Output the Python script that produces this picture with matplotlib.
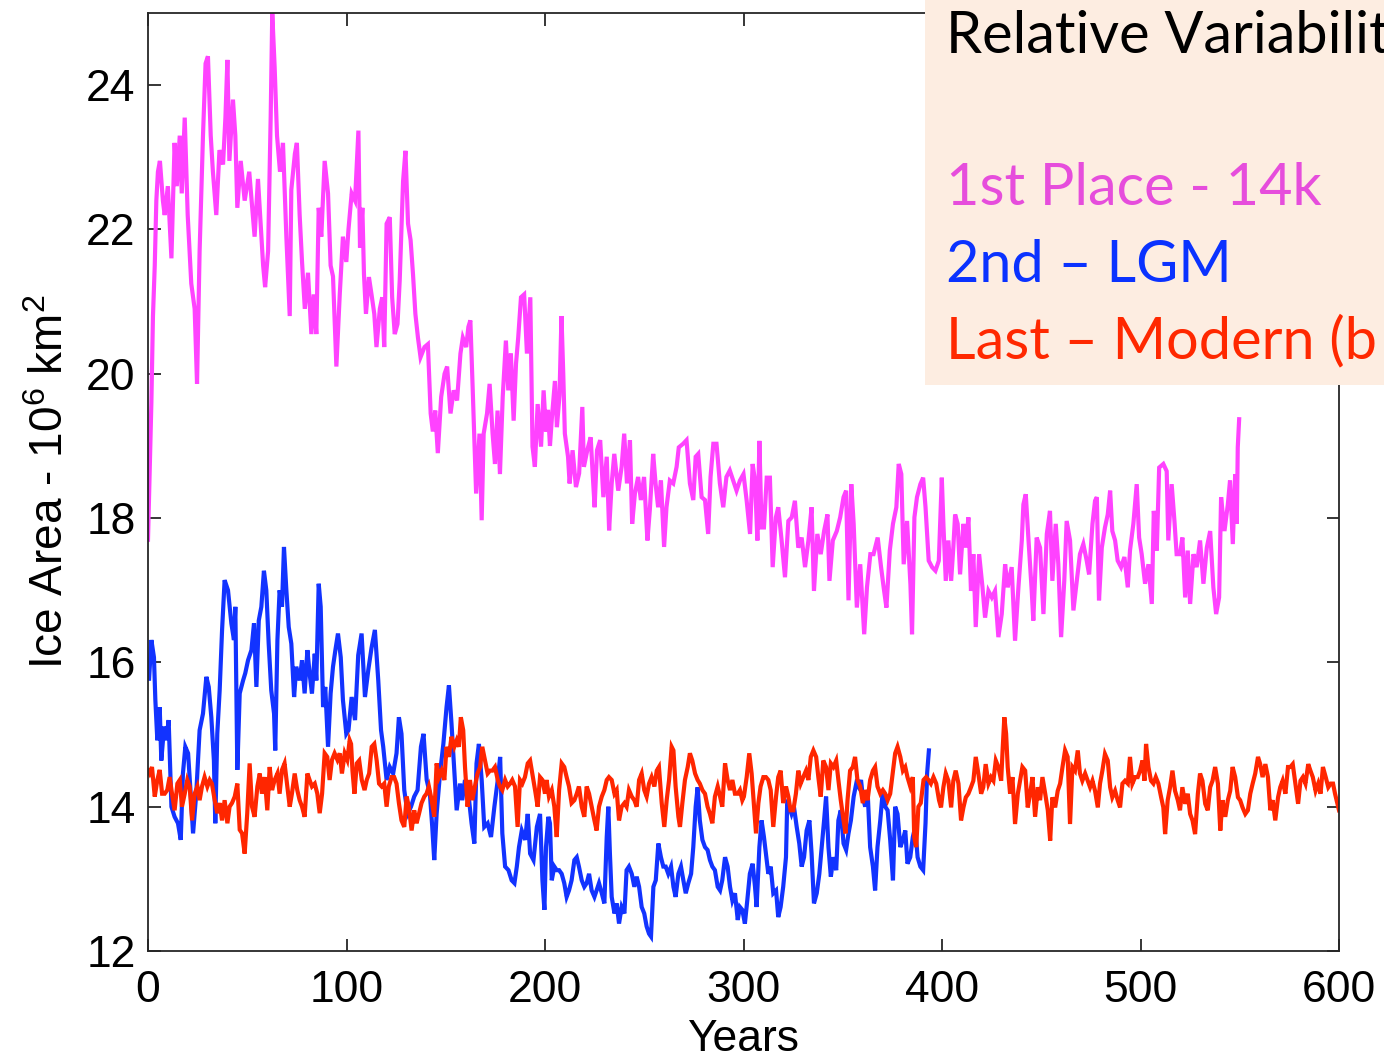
import matplotlib
matplotlib.use("Agg")
import matplotlib.pyplot as plt
import numpy as np
from matplotlib.patches import Rectangle

# (year, ice area in 10^6 km^2)
run_14k = [
    (0, 17.7), (0.8, 18.6), (1.7, 19.6), (2.5, 20.8), (3.4, 21.5), (4.2, 22.4), (5, 22.8), (6, 22.95),
    (7.5, 22.4), (8.4, 22.2), (10, 22.6), (11.8, 21.6), (13.4, 23.2), (14.5, 22.6), (16, 23.3), (17, 22.5),
    (18.5, 23.55), (20, 22.2), (21.8, 21.25), (23.5, 20.9), (24.7, 19.86), (26, 21.7), (27.7, 23.3),
    (29, 24.3), (30.2, 24.4), (31.6, 23.3), (32.7, 22.8), (34.4, 22.2), (36, 23.1), (37.8, 22.9),
    (39, 23.55), (40, 24.35), (41, 22.95), (42.8, 23.8), (44, 23.3), (45, 22.3), (46.7, 22.95),
    (48.7, 22.4), (51, 22.8), (53.7, 21.9), (55.4, 22.7), (58, 21.5), (59, 21.2), (60.5, 21.7),
    (61.8, 23.55), (62.6, 25.0), (63.8, 24.25), (65, 23.3), (66.5, 22.8), (68, 23.2), (69.7, 21.9),
    (71.4, 20.8), (72.2, 22.55), (74, 23.05), (75, 23.2), (76.4, 22.2), (77.6, 21.55), (79, 20.9),
    (80.6, 21.4), (82.3, 20.55), (83.5, 21.1), (84.8, 20.55), (86, 22.3), (87.3, 21.9), (89, 22.95),
    (90.7, 22.5), (92, 21.5), (93.2, 21.35), (94.9, 20.1), (96.6, 21.1), (98.2, 21.9), (99.9, 21.55),
    (101, 22.0), (102.6, 22.5), (104.3, 22.4), (106, 23.37), (106.8, 21.75), (108, 22.3), (108.8, 21.38),
    (109.8, 20.83), (111.3, 21.34), (112.6, 21.1), (114, 20.83), (115.1, 20.37), (116.8, 20.9),
    (118, 21.06), (119, 20.37), (120.2, 22.08), (121.8, 22.17), (123, 21.06), (124.3, 20.55),
    (125.7, 20.69), (126.8, 21.29), (128.5, 22.67), (129.7, 23.09), (131, 22.08), (132.3, 21.85),
    (133.5, 21.38), (134.7, 20.83), (136, 20.5), (137.3, 20.23), (139.3, 20.37), (141, 20.41),
    (142.4, 19.45), (143.5, 19.2), (144.7, 19.49), (146, 18.9), (147.7, 19.68), (149.4, 20.0),
    (150.7, 20.1), (152.4, 19.45), (154, 19.77), (155.7, 19.63), (157.4, 20.28), (158.6, 20.5),
    (160.3, 20.37), (161.4, 20.65), (162.4, 20.74), (163.6, 19.77), (165.3, 18.34), (167, 19.17),
    (168.1, 17.97), (169.1, 19.17), (170.8, 19.45), (172.1, 19.86), (173.6, 19.17), (174.8, 18.75),
    (176.1, 19.49), (177.3, 18.61), (178.7, 19.68), (180.3, 20.46), (181.5, 19.77), (182.8, 20.28),
    (184.2, 19.35), (185.4, 20.14), (186.5, 20.5), (187.9, 21.06), (189.5, 21.1), (190.9, 20.28),
    (192.6, 21.06), (193.7, 18.99), (194.9, 18.71), (196.3, 19.58), (198, 18.99), (199.3, 19.77),
    (200.5, 19.2), (201.5, 19.5), (202.5, 19.0), (203.5, 19.4), (205, 19.9), (206, 19.26), (207.3, 19.7),
    (208.3, 20.8), (209.2, 20.0), (210, 19.17), (211.6, 18.85), (212.4, 18.48), (213.9, 18.94),
    (215.6, 18.43), (217.2, 18.62), (218.8, 19.54), (219.6, 18.71), (221.3, 18.94), (223, 19.12),
    (224, 18.62), (225, 18.15), (226.2, 18.94), (227.8, 19.08), (229.4, 18.29), (231.1, 18.85),
    (232.3, 17.83), (233.6, 18.48), (234.9, 18.89), (236.9, 18.38), (238.6, 18.71), (239.9, 19.17),
    (241.3, 18.48), (242.8, 19.08), (243.9, 17.92), (245.3, 18.34), (246.9, 18.57), (248.3, 18.25),
    (249.9, 18.57), (251.6, 17.69), (252.8, 18.11), (254.5, 18.89), (255.7, 18.48), (257, 18.15),
    (258.4, 18.52), (260, 17.6), (261.2, 18.15), (262.9, 18.52), (264.6, 18.48), (266.3, 18.71),
    (267.4, 18.98), (269.6, 19.03), (271.3, 19.08), (273, 18.48), (274.7, 18.25), (275.9, 18.85),
    (277.2, 18.89), (278.9, 18.29), (280.6, 18.25), (282.2, 17.78), (283.4, 18.57), (284.8, 19.03),
    (286.4, 19.03), (288.1, 18.48), (289.8, 18.15), (291.4, 18.57), (293.1, 18.66), (294.8, 18.52),
    (296.5, 18.38), (298.2, 18.52), (300, 18.61), (301.6, 18.24), (303.3, 17.78), (304.6, 18.75),
    (305.8, 18.52), (307, 17.69), (308, 19.07), (309.1, 17.87), (310.3, 17.87), (311.7, 18.56),
    (313.3, 18.56), (314.7, 17.32), (316.3, 18.01), (317.5, 18.15), (319.2, 17.69), (320.9, 17.18),
    (322.6, 17.96), (324.3, 18.01), (325.9, 18.24), (327.6, 17.59), (329.3, 17.73), (331, 17.32),
    (332.7, 17.69), (334.3, 18.15), (335.5, 16.99), (337.2, 17.78), (338.9, 17.5), (340.6, 17.82),
    (342.3, 18.05), (343.3, 17.13), (345, 17.69), (347, 17.82), (348.7, 18.01), (350.4, 18.29),
    (351.7, 18.38), (352.9, 16.86), (354.3, 18.47), (355.5, 17.92), (357.1, 16.76), (358.8, 17.36),
    (360.8, 16.39), (362.2, 17.04), (363.9, 17.5), (365.5, 17.5), (367.6, 17.73), (369.3, 17.32),
    (370.6, 17.04), (372, 16.76), (373.7, 17.55), (375.3, 17.92), (377, 18.15), (378.2, 18.75),
    (379.5, 18.61), (380.7, 17.36), (382.4, 17.96), (384.1, 17.08), (384.9, 16.39), (386.1, 18.01),
    (387.4, 18.29), (389.1, 18.47), (390.5, 18.56), (391.7, 18.15), (393.3, 17.41), (395, 17.32),
    (396.7, 17.27), (398.4, 17.41), (399.9, 18.56), (400.7, 17.92), (401.9, 17.13), (403.2, 17.69),
    (404.6, 17.13), (405.7, 17.59), (406.6, 18.05), (407.9, 17.92), (409.1, 17.22), (410.8, 17.92),
    (412, 17.59), (413.3, 18.01), (414.6, 16.99), (415.8, 17.5), (417, 16.49), (418.7, 17.5),
    (420.4, 17.04), (421.7, 16.62), (423.4, 16.99), (425.1, 16.9), (426.7, 16.99), (428.4, 16.35),
    (430.1, 16.67), (431.8, 17.36), (433.1, 17.04), (435.1, 17.32), (436.8, 16.3), (438.5, 17.04),
    (440.2, 17.69), (441, 18.19), (442.2, 18.33), (443.5, 17.73), (445.2, 16.99), (446, 16.58),
    (447.7, 17.73), (449.4, 17.59), (451.1, 16.67), (452.8, 17.78), (454.4, 18.1), (455.6, 17.13),
    (457.3, 17.92), (458.6, 17.36), (460, 16.35), (461.6, 17.13), (462.8, 17.96), (464.5, 17.69),
    (466.2, 16.72), (467.9, 17.13), (469.5, 17.5), (471.2, 17.64), (472.9, 17.41), (474.1, 17.22),
    (475.8, 17.92), (477.1, 18.24), (478, 18.29), (479.1, 16.86), (480.5, 17.59), (482.1, 17.87),
    (483.5, 18.05), (484.7, 18.38), (485.8, 17.82), (487.2, 17.69), (488.5, 17.41), (490.2, 17.32),
    (491.9, 17.46), (493.6, 17.04), (494.7, 17.55), (496.4, 17.92), (498.1, 18.47), (499.3, 17.73),
    (500.6, 17.5), (502.3, 17.09), (504, 17.36), (505.7, 16.81), (506.7, 18.1), (508.2, 17.55),
    (509.4, 18.7), (511.5, 18.75), (513.2, 18.65), (514, 17.69), (515.7, 18.47), (517.1, 17.96),
    (518.2, 17.5), (519.9, 17.5), (521.1, 17.73), (522.5, 16.9), (523.8, 17.55), (525, 16.81),
    (526.7, 17.5), (528.3, 17.32), (530, 17.69), (531.7, 17.09), (533.4, 17.59), (535.1, 17.82),
    (536.7, 17.04), (538.1, 16.67), (539.6, 16.9), (540.6, 18.29), (542.3, 17.82), (544, 18.19),
    (545.1, 18.52), (546.5, 17.64), (547.7, 18.61), (548.5, 17.92), (549, 18.98), (549.7, 19.37),
]

run_lgm = [
    (0, 15.9), (0.5, 15.75), (1.7, 16.31), (3, 16.07), (3.7, 15.48), (4.7, 14.92), (5.9, 15.38),
    (6.7, 14.64), (8.1, 15.11), (9.2, 14.92), (10.4, 15.2), (11.8, 14.0), (13.4, 13.86), (15.1, 13.77),
    (16.5, 13.54), (17.6, 14.46), (18.8, 14.83), (20.2, 14.74), (21.5, 14.18), (22.7, 13.63),
    (24.3, 14.18), (26, 15.06), (27.7, 15.29), (29.4, 15.8), (30.6, 15.66), (31.9, 15.24), (33.2, 14.64),
    (33.9, 13.77), (34.9, 15.01), (36.1, 15.61), (37.3, 16.44), (38.6, 17.14), (40.3, 17.0),
    (42, 16.54), (43.3, 16.31), (44, 16.77), (45, 14.51), (46.2, 15.57), (47.9, 15.75), (49, 15.85),
    (50.4, 16.03), (52.1, 16.17), (53.4, 16.54), (54.6, 15.66), (55.8, 16.58), (57.1, 16.77),
    (58.4, 17.27), (59.6, 17.0), (60.8, 16.26), (62.1, 15.61), (63.5, 15.29), (64.1, 14.78),
    (65.2, 16.31), (66.3, 17.0), (67.5, 16.77), (68.5, 17.6), (69.7, 17.0), (70.9, 16.49),
    (72.2, 16.26), (73.6, 15.52), (74.7, 15.94), (76.4, 15.75), (77.6, 16.03), (78.9, 15.57),
    (80.3, 16.17), (81.4, 15.85), (82.6, 15.57), (84, 16.12), (84.8, 15.75), (86, 17.09), (87, 16.77),
    (88.2, 15.38), (89.3, 15.66), (90.7, 14.83), (92, 15.57), (93.2, 15.94), (94.4, 16.17),
    (95.7, 16.4), (97.1, 16.07), (98.2, 15.48), (99.9, 15.01), (101, 15.06), (102.6, 15.52),
    (104.3, 15.2), (105.9, 16.1), (107.6, 16.4), (109.3, 15.52), (111, 15.9), (112.6, 16.2),
    (114.3, 16.45), (116, 15.75), (117.4, 15.06), (118.5, 14.83), (120.2, 14.37), (121.8, 14.55),
    (123.5, 14.46), (125.2, 14.74), (126.4, 15.24), (127.7, 15.01), (129.1, 14.23), (130.8, 13.9),
    (132.5, 14.0), (134.1, 14.14), (135.8, 14.23), (137.5, 14.83), (138.8, 15.01), (140.4, 14.37),
    (142, 14.18), (143.2, 13.72), (144.2, 13.26), (145.4, 13.9), (147.1, 14.46), (148.8, 14.87),
    (150.4, 15.38), (151.6, 15.68), (152.9, 15.15), (154.3, 14.5), (155.5, 13.95), (157.2, 14.32),
    (158.3, 14.09), (159.7, 14.37), (161.4, 14.18), (163, 13.77), (164.4, 13.49), (165.5, 14.6),
    (166.7, 14.87), (168.1, 14.37), (169.4, 13.72), (171.1, 13.77), (172.8, 13.58), (174.5, 14.0),
    (176.2, 14.37), (177.4, 14.69), (178.5, 13.63), (179.9, 13.17), (181.6, 13.12), (183.2, 12.98),
    (184.6, 12.94), (185.8, 13.17), (186.9, 13.44), (188.3, 13.67), (190, 13.54), (191.3, 13.9),
    (192.5, 13.35), (194.2, 13.26), (195.9, 13.72), (197.5, 13.9), (198.7, 12.98), (199.7, 12.57),
    (200.5, 13.44), (201.7, 13.86), (202.5, 13.77), (203.4, 12.98), (204.7, 13.17), (205.9, 13.12),
    (207.1, 13.12), (208.4, 13.07), (209.7, 12.94), (210.9, 12.75), (212.1, 12.84), (213.4, 12.98),
    (214.8, 13.26), (216, 13.3), (217.1, 13.17), (218.5, 12.98), (219.8, 12.89), (221, 12.94),
    (222.2, 13.07), (223.5, 12.84), (224.9, 12.75), (226, 12.84), (227.2, 12.94), (228.6, 12.8),
    (229.9, 12.66), (231.1, 13.58), (231.9, 14.0), (232.7, 13.35), (233.6, 12.75), (235, 12.52),
    (236.1, 12.66), (237.3, 12.38), (238.6, 12.61), (240, 12.52), (241.1, 13.12), (242.3, 13.17),
    (243.7, 13.07), (245, 12.89), (246.2, 13.03), (247.4, 12.89), (248.7, 12.61), (250, 12.52),
    (251.2, 12.34), (252.4, 12.24), (253.4, 12.2), (254.6, 12.89), (255.8, 12.98), (257.1, 13.49),
    (258.4, 13.3), (259.6, 13.17), (260.8, 13.17), (262.1, 13.07), (263.5, 13.17), (264.7, 12.89),
    (265.8, 12.75), (267.2, 13.07), (268.5, 13.17), (269.7, 12.98), (270.9, 12.8), (272.2, 12.94),
    (273.6, 13.07), (274.7, 13.44), (275.9, 14.0), (276.9, 14.27), (278, 13.81), (279.3, 13.54),
    (280.6, 13.44), (281.9, 13.4), (283.1, 13.26), (284.3, 13.17), (285.6, 13.12), (287, 12.89),
    (288.2, 12.84), (289.3, 12.98), (290.7, 13.3), (292, 13.17), (293.2, 12.89), (294.4, 12.7),
    (295.7, 12.8), (297.1, 12.43), (298.2, 12.61), (299.4, 12.57), (300.7, 12.38), (301.9, 12.7),
    (303.2, 13.07), (304.6, 13.21), (305.8, 12.89), (306.6, 12.61), (308, 13.44), (309.1, 13.81),
    (310.3, 13.58), (311.3, 13.35), (312.5, 13.07), (313.7, 13.17), (315, 12.8), (316.4, 12.84),
    (317.5, 12.47), (318.7, 12.61), (320, 12.89), (321.4, 13.3), (322, 14.04), (323, 14.0),
    (324.2, 13.9), (325.4, 14.0), (326.8, 13.72), (328.1, 13.49), (329.3, 13.17), (330.5, 13.3),
    (331.8, 13.67), (333.2, 13.81), (334.3, 13.35), (335.5, 12.66), (336.9, 12.8), (338.2, 13.07),
    (339.4, 13.44), (340.6, 13.81), (341.6, 14.14), (342.8, 13.44), (344, 13.03), (345.3, 13.3),
    (346.7, 13.12), (347.8, 13.81), (349, 13.95), (350.4, 13.49), (351.7, 13.4), (352.9, 13.63),
    (354.1, 13.81), (355.5, 14.14), (356.8, 14.32), (358, 14.27), (359.2, 14.37), (360.1, 14.14),
    (361.3, 14.0), (362.5, 14.23), (363.8, 13.44), (365.2, 13.17), (366.3, 12.84), (367.5, 13.44),
    (368.9, 13.81), (370.2, 14.23), (371.4, 14.0), (372.6, 13.95), (373.9, 13.54), (375.3, 12.98),
    (376.4, 14.0), (377.6, 13.9), (379, 13.44), (380.3, 13.54), (381.5, 13.67), (382.6, 13.21),
    (384, 13.3), (385.3, 13.58), (386.5, 13.72), (387.7, 13.3), (389.1, 13.17), (390.5, 13.12),
    (391.7, 13.77), (392.5, 14.46), (393.4, 14.78),
]

run_modern = [
    (0, 14.5), (0.8, 14.46), (2, 14.55), (3.4, 14.14), (4.7, 14.37), (5.9, 14.51), (7.1, 14.18),
    (8.4, 14.18), (9.7, 14.23), (10.9, 14.41), (12.1, 14.18), (13.4, 13.95), (14.8, 14.32), (16, 14.37),
    (17.1, 14.0), (18.5, 14.18), (19.8, 14.37), (21, 14.28), (22.2, 13.81), (23.5, 14.18), (24.9, 14.28),
    (26, 14.09), (27.2, 14.28), (28.5, 14.41), (29.9, 14.28), (31.1, 14.37), (32.2, 14.32), (33.6, 14.09),
    (34.9, 13.91), (36.1, 14.05), (37.3, 13.81), (38.6, 14.09), (40, 13.77), (41.1, 14.0), (42.3, 14.05),
    (43.7, 14.14), (45, 14.32), (46.2, 13.68), (47.4, 13.63), (48.7, 13.35), (50, 13.91), (51.2, 14.6),
    (52.4, 14.0), (53.7, 13.86), (55.1, 14.28), (56.3, 14.46), (57.4, 14.18), (58.8, 14.41), (60.1, 13.95),
    (61.3, 14.55), (62.5, 14.23), (63.8, 14.37), (65.2, 14.46), (66.3, 14.18), (67.5, 14.51), (68.8, 14.6),
    (70.2, 14.28), (71.4, 14.0), (72.5, 14.18), (73.9, 14.46), (75.2, 14.23), (76.4, 14.09), (77.6, 14.0),
    (78.9, 13.86), (80.3, 14.46), (81.4, 14.37), (82.6, 14.28), (84, 14.32), (85.3, 14.18), (86.5, 13.91),
    (87.7, 14.18), (89, 14.74), (90.3, 14.69), (91.5, 14.37), (92.7, 14.65), (94, 14.74), (95.4, 14.65),
    (96.6, 14.74), (97.7, 14.46), (99.1, 14.74), (100.4, 14.65), (101.6, 14.92), (102.3, 14.87),
    (103, 14.5), (104, 14.18), (105.2, 14.6), (106.4, 14.64), (107.7, 14.37), (109.1, 14.23),
    (110.2, 14.37), (111.4, 14.46), (112.7, 14.83), (114, 14.87), (115.2, 14.64), (116.4, 14.32),
    (117.7, 14.28), (119, 14.32), (120.2, 14.0), (121.3, 14.28), (122.7, 14.41), (124, 14.41),
    (125.2, 14.32), (126.4, 14.05), (127.7, 13.81), (129.1, 13.72), (130.3, 14.14), (131.4, 14.0),
    (132.8, 13.67), (134.1, 13.95), (135.3, 13.77), (136.5, 13.9), (137.8, 14.05), (139.2, 14.14),
    (140.3, 14.18), (141.5, 14.28), (142.9, 14.09), (144.2, 13.86), (145.4, 14.6), (146.6, 14.41),
    (147.9, 14.5), (149.3, 14.37), (150.4, 14.83), (151.6, 14.69), (152.9, 14.97), (154.3, 14.83),
    (155.5, 14.92), (156.6, 14.83), (157.6, 15.24), (158.8, 15.06), (159.7, 14.55), (161, 14.0),
    (162.2, 14.37), (163.4, 14.09), (164.7, 14.28), (166, 14.46), (167.3, 14.55), (168.4, 14.83),
    (169.8, 14.64), (171.1, 14.46), (172.3, 14.5), (173.5, 14.5), (174.8, 14.55), (176.2, 14.37),
    (177.3, 14.28), (178.5, 14.23), (179.9, 14.37), (181.2, 14.28), (182.4, 14.32), (183.5, 14.37),
    (184.9, 14.28), (186.2, 13.72), (187.4, 14.37), (188.6, 14.32), (189.9, 14.41), (191.3, 14.6),
    (192.5, 14.64), (193.6, 14.46), (195, 14.23), (196.3, 14.0), (197.5, 14.41), (198.7, 14.37),
    (200, 14.18), (200.8, 14.37), (202, 14.14), (203.4, 14.23), (204.7, 14.0), (205.9, 13.58),
    (207.1, 14.23), (208.4, 14.6), (209.7, 14.55), (210.9, 14.41), (212.1, 14.28), (213.4, 14.05),
    (214.8, 14.09), (216, 14.18), (217.1, 14.28), (218.5, 14.0), (219.8, 13.86), (221, 14.28),
    (222.2, 14.18), (223.5, 14.0), (224.9, 13.81), (226, 13.67), (227.2, 14.0), (228.6, 14.14),
    (229.9, 14.23), (231.1, 14.37), (232.2, 14.41), (233.6, 14.37), (235, 14.18), (236.1, 14.23),
    (237.3, 13.81), (238.6, 14.0), (240, 14.05), (241.1, 14.0), (242.3, 14.23), (243.7, 14.14),
    (245, 14.09), (246.2, 14.0), (247.4, 14.37), (248.7, 14.46), (250, 14.23), (251.2, 14.14),
    (252.4, 14.32), (253.7, 14.41), (255.1, 14.28), (256.3, 14.5), (257.4, 14.55), (258.8, 14.05),
    (260.1, 13.72), (261.3, 14.09), (262.5, 14.37), (263.8, 14.83), (264.7, 14.78), (265.8, 14.28),
    (267.2, 13.86), (268, 13.72), (269.2, 14.05), (270.5, 14.37), (271.9, 14.55), (273, 14.74),
    (274.2, 14.64), (275.6, 14.46), (276.9, 14.37), (278, 14.32), (279.3, 14.23), (280.6, 14.18),
    (281.9, 14.0), (283.1, 13.9), (284.3, 13.77), (285.6, 14.14), (287, 14.28), (288.2, 14.14),
    (289.3, 14.0), (290.7, 14.6), (292, 14.37), (293.2, 14.23), (294.4, 14.37), (295.7, 14.18),
    (297.1, 14.18), (298.2, 14.23), (299.4, 14.09), (300.2, 14.14), (301.6, 14.41), (302.9, 14.74),
    (304.1, 14.46), (305.3, 14.0), (306.3, 13.63), (307.5, 14.05), (308.6, 14.28), (310, 14.41),
    (311.3, 14.41), (312.5, 14.37), (313.7, 14.23), (315, 13.72), (316.4, 14.14), (317.5, 14.41),
    (318.7, 14.5), (320, 14.05), (321.4, 14.28), (322.6, 14.14), (323.7, 13.95), (325.1, 13.95),
    (326.4, 14.18), (327.6, 14.5), (328.8, 14.32), (330.1, 14.41), (331.5, 14.5), (332.7, 14.37),
    (333.9, 14.69), (335.2, 14.78), (336.6, 14.69), (337.7, 14.41), (338.9, 14.14), (340.2, 14.64),
    (341.6, 14.55), (342.8, 14.23), (344, 14.6), (345.3, 14.55), (346.7, 14.64), (347.8, 14.37),
    (349, 14.09), (350.4, 13.81), (351.4, 13.63), (352.4, 14.09), (353.7, 14.5), (355.1, 14.55),
    (356.2, 14.69), (357.4, 14.37), (358.8, 14.28), (360.1, 14.05), (361.3, 14.23), (362.5, 14.09),
    (363.8, 14.37), (365.2, 14.5), (366.3, 14.55), (367.5, 14.28), (368.9, 14.18), (370.2, 14.23),
    (371.4, 14.18), (372.6, 14.09), (373.9, 14.18), (375.3, 14.5), (376.4, 14.74), (377.6, 14.83),
    (379, 14.69), (380.3, 14.5), (381.5, 14.55), (382.6, 14.41), (384, 14.28), (385.3, 14.41),
    (386, 13.58), (387, 13.44), (388.1, 14.0), (389.3, 14.05), (390.7, 14.37), (392, 14.41),
    (393.2, 14.37), (394.4, 14.32), (395.7, 14.41), (397.1, 14.32), (398.5, 14.09), (399.5, 13.99),
    (400.7, 14.27), (401.9, 14.46), (403.2, 14.36), (404.6, 13.99), (405.7, 14.36), (406.9, 14.5),
    (408.3, 14.32), (409.6, 13.81), (410.8, 13.99), (412, 14.13), (413.3, 14.18), (414.6, 14.27),
    (415.8, 14.36), (417, 14.69), (418.3, 14.46), (419.7, 14.18), (420.8, 14.27), (422, 14.59),
    (423.4, 14.32), (424.7, 14.41), (425.9, 14.36), (427.1, 14.64), (428.4, 14.55), (429.8, 14.36),
    (430.6, 14.82), (431.4, 15.24), (432.3, 15.01), (433.1, 14.55), (434.3, 14.18), (435.5, 14.41),
    (436.8, 13.76), (438.2, 14.18), (439.3, 14.36), (440.5, 14.55), (441.9, 14.5), (443.2, 13.99),
    (444.4, 14.18), (445.6, 14.41), (446.9, 13.86), (448.3, 14.27), (449.4, 14.09), (450.6, 14.41),
    (452, 14.18), (453.3, 13.95), (454.5, 13.53), (455.6, 14.13), (457, 13.99), (458.3, 14.22),
    (459.5, 14.32), (460.7, 14.55), (462, 14.78), (463.3, 14.69), (464.5, 13.76), (465.7, 14.55),
    (467, 14.5), (468.4, 14.78), (469.5, 14.46), (470.7, 14.36), (472.1, 14.46), (473.4, 14.36),
    (474.6, 14.27), (475.8, 14.36), (477.1, 14.22), (478.5, 13.99), (479.6, 14.32), (480.8, 14.5),
    (482.1, 14.73), (483.5, 14.64), (484.7, 14.27), (485.8, 14.13), (487.2, 14.22), (488.5, 14.09),
    (489.7, 13.99), (490.9, 14.32), (492.2, 14.36), (493.6, 14.32), (494.7, 14.69), (495.9, 14.32),
    (497.3, 14.41), (498.6, 14.41), (499.8, 14.5), (501, 14.64), (502, 14.36), (502.8, 14.87),
    (504, 14.55), (505.3, 14.36), (506.5, 14.32), (507.7, 14.41), (509, 14.32), (510.4, 14.13),
    (511.5, 13.99), (512.4, 13.62), (513.7, 14.09), (514.9, 14.27), (516.1, 14.5), (517.4, 14.22),
    (518.8, 14.09), (519.9, 13.95), (521.1, 14.27), (522.5, 14.04), (523.8, 14.18), (525, 13.9),
    (526.2, 13.81), (527.5, 13.62), (528.9, 14.18), (530, 14.46), (531.2, 14.36), (532.6, 14.04),
    (533.9, 13.95), (535.1, 14.27), (536.3, 14.36), (537.6, 14.55), (539, 14.32), (540.2, 13.67),
    (541.3, 14.09), (542.7, 13.86), (544, 14.09), (545.2, 14.22), (546.4, 14.55), (547.7, 14.41),
    (549.1, 14.13), (550.2, 14.09), (551.4, 13.99), (552.8, 13.9), (554.1, 13.95), (555.3, 14.18),
    (556.5, 14.32), (557.8, 14.46), (559.2, 14.69), (560.3, 14.59), (561.5, 14.41), (562.9, 14.59),
    (564.2, 14.41), (565.4, 13.95), (566.6, 14.09), (567.9, 13.81), (569.3, 14.13), (570.4, 14.27),
    (571.6, 14.36), (573, 14.18), (574.3, 14.55), (575.5, 14.55), (576.7, 14.59), (578, 14.32),
    (579.4, 14.04), (580.6, 14.36), (581.8, 14.41), (583.1, 14.32), (584.5, 14.59), (585.6, 14.5),
    (586.8, 14.41), (588.2, 14.22), (589.5, 14.32), (590.7, 14.18), (591.9, 14.55), (593.3, 14.41),
    (594.6, 14.27), (595.8, 14.32), (597, 14.32), (598, 14.18), (599.2, 14.04), (600, 13.95),
]

xticks = [0, 100, 200, 300, 400, 500, 600]
yticks = [12, 14, 16, 18, 20, 22, 24]

# the box runs off the right edge of the slide, so its text is clipped there
box_title = "Relative Variability"
box_lines = ["1st Place - 14k", "2nd \u2013 LGM", "Last \u2013 Modern (b"]

plt.rcParams["font.family"] = ["Liberation Sans", "DejaVu Sans"]
plt.rcParams["mathtext.default"] = "regular"

fig = plt.figure(figsize=(13.84, 10.57), dpi=100)
ax = fig.add_axes([148 / 1384, 1 - 951 / 1057, (1339 - 148) / 1384, (951 - 13) / 1057])

for series, color in [(run_14k, "#ff42ff"), (run_lgm, "#1233ff"), (run_modern, "#ff2600")]:
    yrs, area = np.array(series).T
    ax.plot(yrs, area, color=color, lw=3.0, solid_joinstyle="miter")

ax.set_xlim(0, 600)
ax.set_ylim(12, 25)
ax.set_xticks(xticks)
ax.set_yticks(yticks)
ax.tick_params(direction="in", length=9, width=1.3, top=True, right=True,
               labelsize=32, color="#262626")
ax.tick_params(axis="x", pad=14)
ax.tick_params(axis="y", pad=9)
for sp in ax.spines.values():
    sp.set_linewidth(1.3)
    sp.set_color("#262626")

ax.set_xlabel("Years", fontsize=32)
ax.xaxis.set_label_coords(0.5, -0.072)
ax.set_ylabel("Ice Area - 10$^6$ km$^2$", fontsize=33)
ax.yaxis.set_label_coords(-0.063, 0.5)

# peach overlay box with the ranking text
fig.add_artist(Rectangle((925 / 1384, 1 - 385 / 1057), 1.0, 1.0, transform=fig.transFigure,
                         facecolor="#fdede1", edgecolor="none", zorder=5))
tx = 946 / 1384
fig.text(tx, 1 - 53 / 1057, box_title, fontsize=41.5, family="Lato", color="black",
         va="baseline", zorder=6)
for line, ypx, col in zip(box_lines, [205, 282, 358], ["#e64ddc", "#0a32ff", "#ff2800"]):
    fig.text(tx, 1 - ypx / 1057, line, fontsize=41.5, family="Lato", color=col,
             va="baseline", zorder=6)

fig.savefig("out.png", dpi=100)
